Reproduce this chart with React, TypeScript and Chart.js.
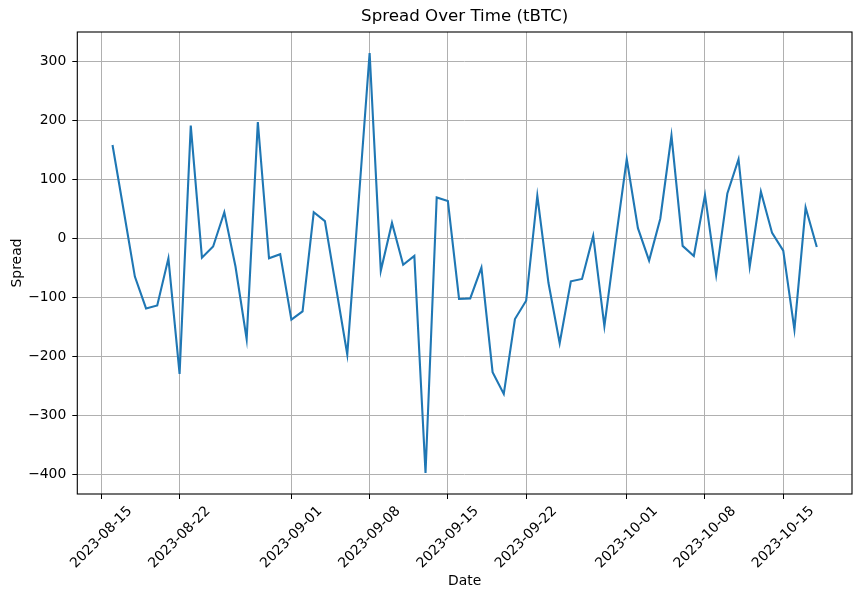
import React, { useEffect, useRef } from "react";
import { Chart, registerables } from "chart.js";

Chart.register(...registerables);

const dates: string[] = [
  "2023-08-16", "2023-08-17", "2023-08-18", "2023-08-19", "2023-08-20", "2023-08-21", "2023-08-22", "2023-08-23",
  "2023-08-24", "2023-08-25", "2023-08-26", "2023-08-27", "2023-08-28", "2023-08-29", "2023-08-30", "2023-08-31",
  "2023-09-01", "2023-09-02", "2023-09-03", "2023-09-04", "2023-09-05", "2023-09-06", "2023-09-07", "2023-09-08",
  "2023-09-09", "2023-09-10", "2023-09-11", "2023-09-12", "2023-09-13", "2023-09-14", "2023-09-15", "2023-09-16",
  "2023-09-17", "2023-09-18", "2023-09-19", "2023-09-20", "2023-09-21", "2023-09-22", "2023-09-23", "2023-09-24",
  "2023-09-25", "2023-09-26", "2023-09-27", "2023-09-28", "2023-09-29", "2023-09-30", "2023-10-01", "2023-10-02",
  "2023-10-03", "2023-10-04", "2023-10-05", "2023-10-06", "2023-10-07", "2023-10-08", "2023-10-09", "2023-10-10",
  "2023-10-11", "2023-10-12", "2023-10-13", "2023-10-14", "2023-10-15", "2023-10-16", "2023-10-17", "2023-10-18",
];

const spread: number[] = [
  158, 47, -65, -119, -114, -34, -230, 191,
  -33, -14, 44, -48, -171, 197, -34, -27,
  -138, -124, 44, 29, -84, -197, 58, 314,
  -55, 26, -45, -30, -398, 69, 63, -103,
  -102, -50, -227, -264, -137, -106, 72, -76,
  -178, -73, -69, 4, -149, -5, 134, 17,
  -38, 33, 174, -13, -30, 73, -62, 76,
  134, -48, 79, 9, -21, -155, 52, -15,
];

const xTickLabels: string[] = [
  "2023-08-15", "2023-08-22", "2023-09-01", "2023-09-08", "2023-09-15",
  "2023-09-22", "2023-10-01", "2023-10-08", "2023-10-15",
];

const yTicks: number[] = [-400, -300, -200, -100, 0, 100, 200, 300];

const chartTitle = "Spread Over Time (tBTC)";

const DAY = 86400000;
const toMs = (s: string) => {
  const [y, m, d] = s.split("-").map(Number);
  return Date.UTC(y, m - 1, d);
};
const fmtDate = (v: number) => {
  const d = new Date(Math.round(v / DAY) * DAY);
  const mm = String(d.getUTCMonth() + 1).padStart(2, "0");
  const dd = String(d.getUTCDate()).padStart(2, "0");
  return `${d.getUTCFullYear()}-${mm}-${dd}`;
};

const FONT = "'DejaVu Sans', sans-serif";

export default function App() {
  const ref = useRef<HTMLCanvasElement | null>(null);

  useEffect(() => {
    if (!ref.current) return;
    const xs = dates.map(toMs);
    const xMinD = Math.min(...xs);
    const xMaxD = Math.max(...xs);
    const xr = xMaxD - xMinD;
    const yMinD = Math.min(...spread);
    const yMaxD = Math.max(...spread);
    const yr = yMaxD - yMinD;

    const framePlugin = {
      id: "frame",
      afterDraw(chart: any) {
        const { ctx, chartArea } = chart;
        ctx.save();
        ctx.strokeStyle = "#000";
        ctx.lineWidth = 1.1;
        ctx.strokeRect(chartArea.left, chartArea.top, chartArea.right - chartArea.left, chartArea.bottom - chartArea.top);
        ctx.fillStyle = "#000";
        ctx.font = `normal 16.67px ${FONT}`;
        ctx.textAlign = "center";
        ctx.textBaseline = "middle";
        ctx.fillText(chartTitle, (chartArea.left + chartArea.right) / 2, 17);
        ctx.restore();
      },
    };

    const chart = new Chart(ref.current, {
      type: "line",
      data: {
        datasets: [
          {
            label: "Spread",
            data: xs.map((x, i) => ({ x, y: spread[i] })),
            borderColor: "#1f77b4",
            borderWidth: 2.1,
            pointRadius: 0,
            tension: 0,
            fill: false,
          },
        ],
      },
      options: {
        animation: false,
        responsive: false,
        maintainAspectRatio: false,
        layout: { padding: { left: 0, right: 10, top: 32, bottom: 0 } },
        plugins: {
          legend: { display: false },
          tooltip: { enabled: false },
          title: { display: false },
        },
        scales: {
          x: {
            type: "linear",
            min: xMinD - 0.05 * xr,
            max: xMaxD + 0.05 * xr,
            afterBuildTicks(scale: any) {
              scale.ticks = xTickLabels.map((s) => ({ value: toMs(s) }));
            },
            afterFit(scale: any) {
              scale.height = 106;
            },
            ticks: {
              autoSkip: false,
              maxRotation: 45,
              minRotation: 45,
              labelOffset: 28.6,
              padding: 4,
              color: "#000",
              font: { family: FONT, size: 13.9 },
              callback: (v: any) => fmtDate(Number(v)),
            },
            grid: {
              color: "#b0b0b0",
              lineWidth: 1,
              drawTicks: true,
              tickLength: 5,
              tickColor: "#000",
              tickWidth: 1,
            },
            border: { display: false },
            title: {
              display: true,
              text: "Date",
              color: "#000",
              font: { family: FONT, size: 13.9 },
              padding: { top: 0, bottom: 10.6 },
            },
          },
          y: {
            type: "linear",
            min: yMinD - 0.05 * yr,
            max: yMaxD + 0.05 * yr,
            afterBuildTicks(scale: any) {
              scale.ticks = yTicks.map((v) => ({ value: v }));
            },
            afterFit(scale: any) {
              scale.width = 77.3;
            },
            ticks: {
              padding: 6,
              color: "#000",
              font: { family: FONT, size: 13.9 },
              callback: (v: any) => String(v).replace("-", "\u2212"),
            },
            grid: {
              color: "#b0b0b0",
              lineWidth: 1,
              drawTicks: true,
              tickLength: 5,
              tickColor: "#000",
              tickWidth: 1,
            },
            border: { display: false },
            title: {
              display: true,
              text: "Spread",
              color: "#000",
              font: { family: FONT, size: 13.9 },
              padding: { top: 9, bottom: 0 },
            },
          },
        },
      },
      plugins: [framePlugin],
    } as any);

    return () => chart.destroy();
  }, []);

  return (
    <div style={{ position: "absolute", left: 0, top: 0, width: 862, height: 600, background: "#fff" }}>
      <canvas ref={ref} width={862} height={600} style={{ display: "block", width: 862, height: 600 }} />
    </div>
  );
}
